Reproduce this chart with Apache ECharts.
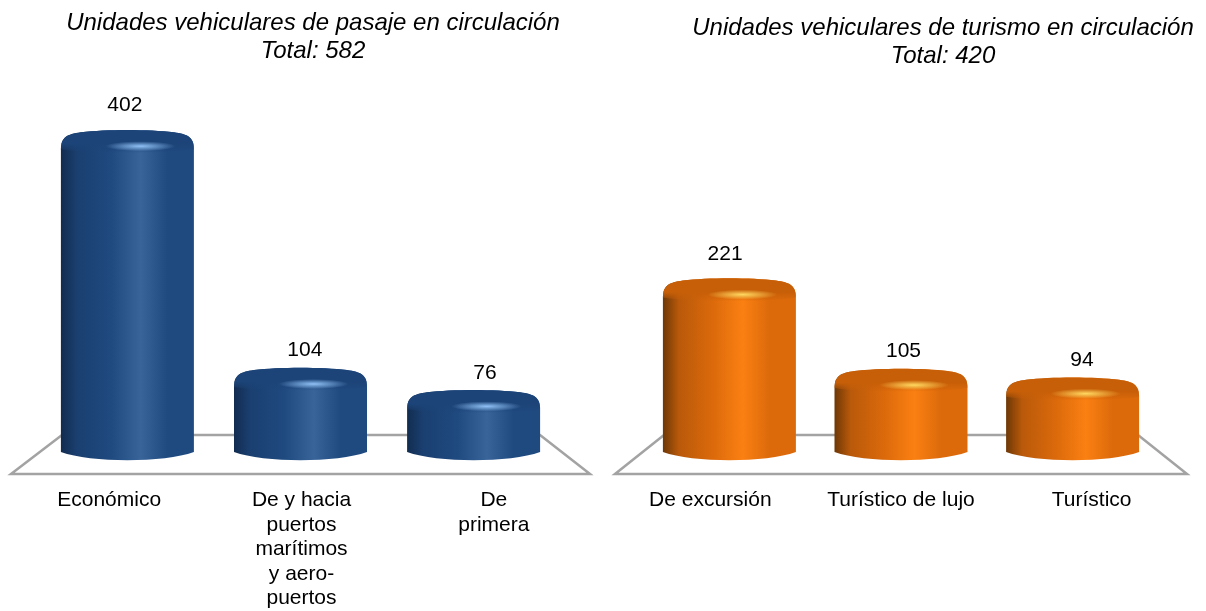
<!DOCTYPE html>
<html><head><meta charset="utf-8">
<style>html,body{margin:0;padding:0;background:#fff}#c{width:1206px;height:611px}</style>
<script src="https://cdn.jsdelivr.net/npm/echarts@6/dist/echarts.min.js"></script>
</head><body><div id="c"></div>
<script>
const categoriesPasaje = ['Económico','De y hacia\npuertos\nmarítimos\ny aero-\npuertos','De\nprimera'];
const valuesPasaje = [402,104,76];
const categoriesTurismo = ['De excursión','Turístico de lujo','Turístico'];
const valuesTurismo = [221,105,94];
const titlePasaje = 'Unidades vehiculares de pasaje en circulación\nTotal: 582';
const titleTurismo = 'Unidades vehiculares de turismo en circulación\nTotal: 420';
const blue = {edge:'#122c50',dark:'#1a3f70',mid:'#1f4a80',light:'#38649a',cap:'#1c4478',glow:'#8fc0f5'};
const orange = {edge:'#6e3806',dark:'#b9590a',mid:'#dc6a0b',light:'#fb8012',cap:'#c75f08',glow:'#ffd860'};
const FONT = '"Liberation Sans", Arial, sans-serif';
const PERSPECTIVE = 0.9;

function cyl(p, mid, lx, lc, lk){
  return function(params, api){
    const c = api.coord([api.value(0),0]);
    const x = mid + (c[0]-mid)*PERSPECTIVE;
    const y0 = c[1];
    const yt = api.coord([api.value(0),api.value(1)])[1];
    const w = 133, l = x-w/2, r = x+w/2;
    const yb = y0+2;
    const top = `M${l} ${yt+20} C${l} ${yt+8} ${l+6} ${yt+5} ${l+20} ${yt+3} C${l+45} ${yt} ${r-45} ${yt} ${r-20} ${yt+3} C${r-6} ${yt+5} ${r} ${yt+8} ${r} ${yt+20}`;
    const body = `${top} L${r} ${yb} C${r-30} ${yb+11} ${l+30} ${yb+11} ${l} ${yb} Z`;
    const cap = `${top} C${r-30} ${yt+25} ${l+30} ${yt+25} ${l} ${yt+20} Z`;
    const h = y0-yt;
    return {type:'group',children:[
      {type:'path',shape:{pathData:body},style:{fill:{type:'linear',x:0,y:0,x2:1,y2:0,colorStops:[
        {offset:0,color:p.edge},{offset:.12,color:p.dark},{offset:.38,color:p.mid},{offset:.6,color:p.light},{offset:.8,color:p.mid},{offset:1,color:p.mid}]}}},
      {type:'path',shape:{pathData:cap},style:{fill:{type:'linear',x:0,y:0,x2:0,y2:1,colorStops:[
        {offset:0,color:p.cap},{offset:.6,color:p.cap},{offset:1,color:p.cap+'00'}]}}},
      {type:'circle',x:x+13,y:yt+17,scaleX:7,scaleY:1,shape:{cx:0,cy:0,r:5},style:{fill:{type:'radial',x:.5,y:.5,r:.5,colorStops:[
        {offset:0,color:p.glow},{offset:1,color:p.glow+'00'}]}}},
      {type:'text',style:{text:String(api.value(1)),x:x+lx+(x-mid)*.04,y:yt-lc-h*lk,align:'center',verticalAlign:'middle',font:'21px '+FONT,fill:'#000'}}
    ]};
  };
}
const floor = (a,b,c,d,yb,yf)=>({type:'polygon',z:0,silent:true,shape:{points:[[a,yf],[b,yb],[c,yb],[d,yf]]},style:{fill:'#fff',stroke:'#a3a3a3',lineWidth:2.5,lineJoin:'miter'}});
const chart = echarts.init(document.getElementById('c'),null,{renderer:'canvas'});
const axisCat = (i,cats)=>({type:'category',gridIndex:i,data:cats,axisLine:{show:false},axisTick:{show:false},
  axisLabel:{interval:0,margin:38,color:'#000',fontFamily:FONT,fontSize:21,lineHeight:24.5,verticalAlign:'top'}});
const axisVal = i=>({type:'value',gridIndex:i,min:0,max:500,show:false,splitLine:{show:false}});
const titleStyle = {fontFamily:FONT,fontSize:24,fontStyle:'italic',fontWeight:'normal',color:'#000',lineHeight:28.5};
chart.setOption({
  animation:false,
  backgroundColor:'#fff',
  title:[
    {text:titlePasaje,left:308,top:4,textAlign:'center',textStyle:titleStyle},
    {text:titleTurismo,left:938,top:9,textAlign:'center',textStyle:titleStyle}
  ],
  graphic:[floor(11,62,540,590,435,474),floor(615,664,1138,1187,435,474)],
  grid:[{left:13,width:577,top:51,height:399},{left:615,width:572,top:60,height:390}],
  xAxis:[axisCat(0,categoriesPasaje),axisCat(1,categoriesTurismo)],
  yAxis:[axisVal(0),axisVal(1)],
  series:[
    {type:'custom',z:5,xAxisIndex:0,yAxisIndex:0,clip:false,renderItem:cyl(blue,291.5,4,14,.03),encode:{x:0,y:1},data:valuesPasaje.map((v,i)=>[i,v])},
    {type:'custom',z:5,xAxisIndex:1,yAxisIndex:1,clip:false,renderItem:cyl(orange,901,2.5,12,.064),encode:{x:0,y:1},data:valuesTurismo.map((v,i)=>[i,v])}
  ]
});
</script></body></html>
